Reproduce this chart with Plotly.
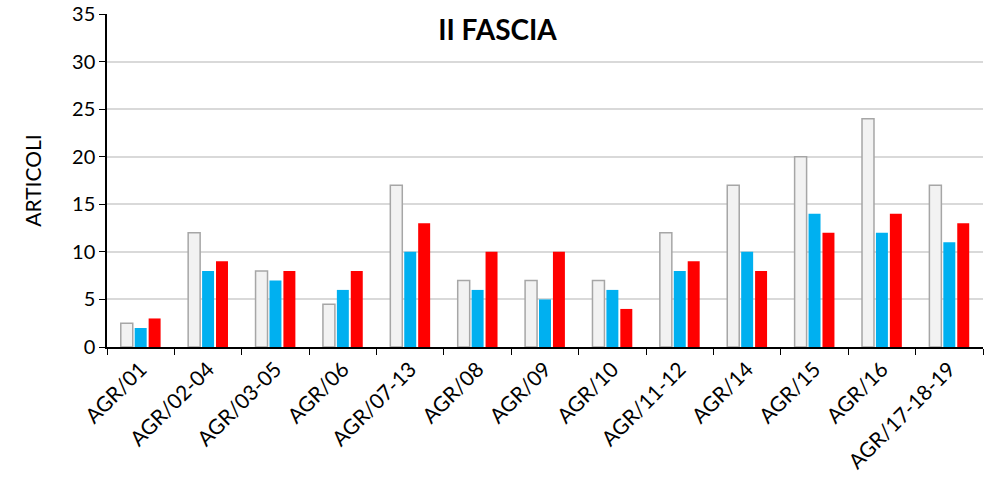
import plotly.graph_objects as go

categories = ["AGR/01", "AGR/02-04", "AGR/03-05", "AGR/06", "AGR/07-13", "AGR/08",
              "AGR/09", "AGR/10", "AGR/11-12", "AGR/14", "AGR/15", "AGR/16", "AGR/17-18-19"]
serie_grigia = [2.5, 12, 8, 4.5, 17, 7, 7, 7, 12, 17, 20, 24, 17]
serie_azzurra = [2, 8, 7, 6, 10, 6, 5, 6, 8, 10, 14, 12, 11]
serie_rossa = [3, 9, 8, 8, 13, 10, 10, 4, 9, 8, 12, 14, 13]

font_family = "Lato, 'Open Sans', sans-serif"

fig = go.Figure()
fig.add_trace(go.Bar(x=categories, y=serie_grigia, marker=dict(color="#F2F2F2",
                     line=dict(color="#A6A6A6", width=1.5))))
fig.add_trace(go.Bar(x=categories, y=serie_azzurra, marker=dict(color="#00B0F0",
                     line=dict(width=0))))
fig.add_trace(go.Bar(x=categories, y=serie_rossa, marker=dict(color="#FF0000",
                     line=dict(width=0))))

fig.update_layout(
    width=995, height=479,
    margin=dict(l=107, r=12, t=14, b=132),
    barmode="group", bargap=0.38, bargroupgap=0.14,
    showlegend=False,
    plot_bgcolor="white", paper_bgcolor="white",
    font=dict(family=font_family, color="black", size=20),
    title=dict(text="<b>II FASCIA</b>", x=0.5, xanchor="center", y=0.937, yanchor="middle",
               font=dict(size=28, color="black")),
)
fig.update_xaxes(
    tickangle=-45, tickson="boundaries", ticks="outside", ticklen=6, tickcolor="black",
    showline=True, linecolor="black", linewidth=1.5, tickfont=dict(size=21),
    automargin=False,
)
fig.update_yaxes(
    range=[0, 35], dtick=5, ticks="outside", ticklen=6, tickcolor="black",
    showline=True, linecolor="black", linewidth=1.5,
    showgrid=True, gridcolor="#D9D9D9", gridwidth=1.5,
    title=dict(text="ARTICOLI", font=dict(size=21), standoff=25),
    tickfont=dict(size=20), automargin=False,
)

# drop the default body margin so the figure sits at the page corner
fig.write_html("out.html", config={"displayModeBar": False},
               post_script="document.body.style.margin='0';")
